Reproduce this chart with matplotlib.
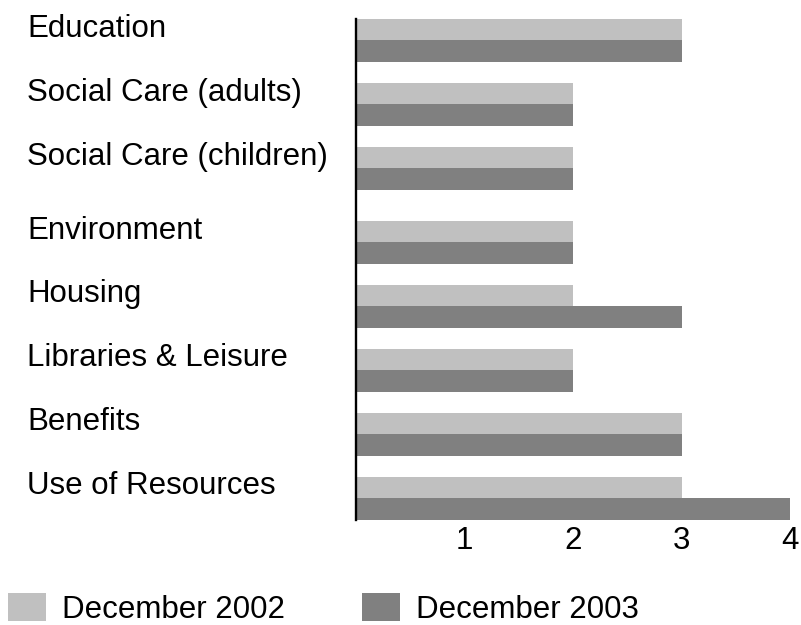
import matplotlib
matplotlib.use("Agg")
import matplotlib.pyplot as plt
from matplotlib.patches import Patch
import numpy as np

categories = ["Education", "Social Care (adults)", "Social Care (children)",
              "Environment", "Housing", "Libraries & Leisure", "Benefits",
              "Use of Resources"]
dec_2002 = [3, 2, 2, 2, 2, 2, 3, 3]
dec_2003 = [3, 2, 2, 2, 3, 2, 3, 4]
series_labels = ["December 2002", "December 2003"]
xticks = [1, 2, 3, 4]

plt.rcParams['font.family'] = ['Liberation Sans', 'DejaVu Sans']
FS = 22.5
W, H = 801, 625
fig = plt.figure(figsize=(W / 100, H / 100), dpi=100)

top_px, bot_px = 19, 519.5
left_px, right_px = 356, 790
ax = fig.add_axes([left_px / W, (H - bot_px) / H, (right_px - left_px) / W, (bot_px - top_px) / H])

c1, c2 = "#c0c0c0", "#808080"
# layout: a slightly wider gap before the 4th group, as in the original
idx = np.arange(len(categories))
y = idx + np.where(idx >= 3, 0.156, 0.0)
h = 0.336
ax.barh(y - h / 2, dec_2002, height=h, color=c1, linewidth=0, zorder=1)
ax.barh(y + h / 2, dec_2003, height=h, color=c2, linewidth=0, zorder=1)

ax.set_xlim(0, 4)
ax.set_ylim(y[-1] + h, -h)
ax.set_xticks(xticks)
ax.set_xticklabels([str(t) for t in xticks], fontsize=FS)
ax.tick_params(axis='x', length=0, pad=5)
ax.set_yticks([])
for s in ['top', 'right', 'bottom']:
    ax.spines[s].set_visible(False)
ax.spines['left'].set_linewidth(1.7)
ax.spines['left'].set_color('black')
ax.spines['left'].set_zorder(3)

for i, cat in enumerate(categories):
    yd = ax.transData.transform((0, y[i] - h / 2))[1]
    fig.text(27 / W, (yd - 7) / H, cat, fontsize=FS, ha='left', va='baseline')

handles = [Patch(facecolor=c1, edgecolor='none'), Patch(facecolor=c2, edgecolor='none')]
fig.legend(handles, series_labels, loc='lower left', bbox_to_anchor=(8 / W, 0.0),
           ncol=2, frameon=False, fontsize=FS, handlelength=1.22, handleheight=1.0,
           handletextpad=0.52, columnspacing=2.45, borderaxespad=0, borderpad=0)

fig.savefig("out.png", dpi=100)
